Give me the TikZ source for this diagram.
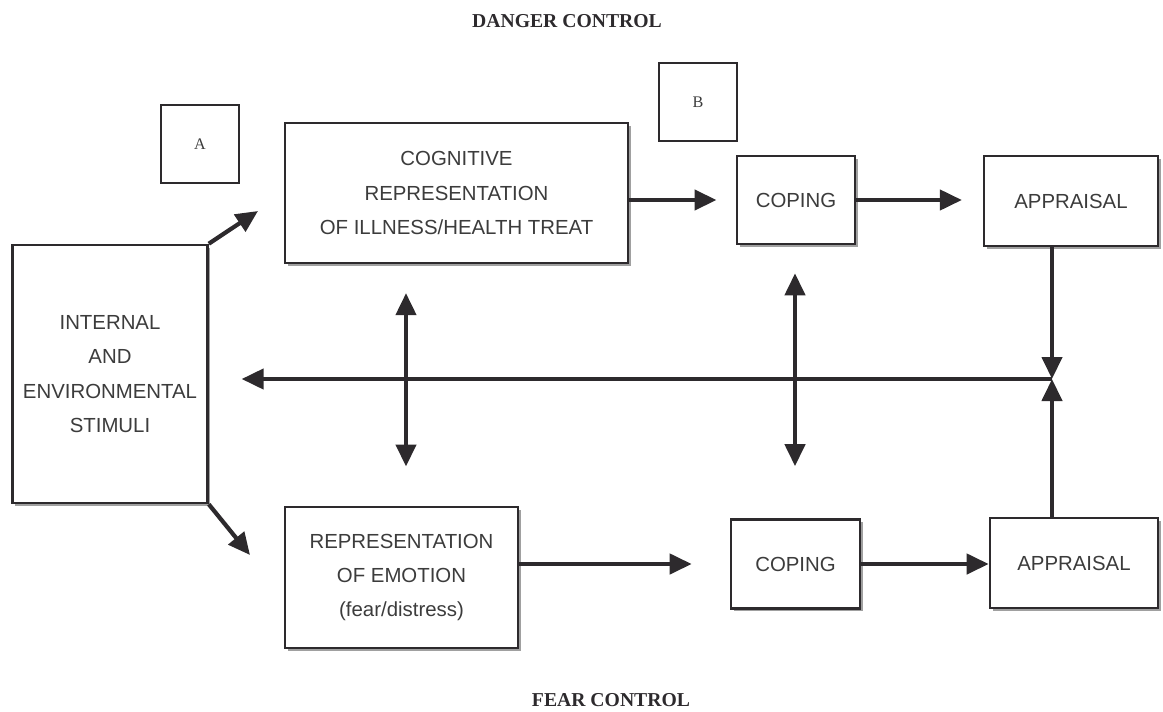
\documentclass[tikz,border=0pt]{standalone}
\usepackage{fontspec}
\setmainfont{Liberation Serif}
\setsansfont{Liberation Sans}
\usetikzlibrary{arrows.meta,positioning,shadows,calc}
\definecolor{InkGray}{RGB}{45,42,45}
\definecolor{TextGray}{RGB}{60,60,60}
\definecolor{ShadowGray}{RGB}{160,160,160}
\tikzset{
  block/.style={draw=InkGray,line width=1.8pt,fill=white,align=center,
    text=TextGray,font=\sffamily\fontsize{14.5}{24.5}\selectfont,
    drop shadow={shadow xshift=2pt,shadow yshift=-2pt,fill=ShadowGray,opacity=1}},
  tag/.style={draw=InkGray,line width=0.8pt,minimum width=1.95cm,minimum height=1.95cm,
    font=\fontsize{11.5}{13}\selectfont,text=TextGray},
  title/.style={font=\bfseries\fontsize{14}{16}\selectfont,text=InkGray},
  arrow/.style={-{Triangle[length=0.55cm,width=0.5cm]},line width=3pt,InkGray},
  biarrow/.style={{Triangle[length=0.55cm,width=0.5cm]}-{Triangle[length=0.55cm,width=0.5cm]},
    line width=3pt,InkGray}
}

\begin{document}
\begin{tikzpicture}[x=0.025cm,y=-0.025cm]
\useasboundingbox (0,0) rectangle (1163,711);

% titles
\node[title] (danger) at (567,21) {DANGER CONTROL};
\node[title] (fear) at (611,700) {FEAR CONTROL};

% stage labels
\node[tag] (tagA) at (200,144) {A};
\node[tag] (tagB) at (698,102) {B};

% boxes
\node[block,minimum width=4.875cm,minimum height=6.45cm] (stim) at (110,374)
  {INTERNAL\\AND\\ENVIRONMENTAL\\STIMULI};
\node[block,minimum width=8.575cm,minimum height=3.5cm] (cog) at (456.5,193)
  {COGNITIVE\\REPRESENTATION\\OF ILLNESS/HEALTH TREAT};
\node[block,minimum width=2.95cm,minimum height=2.2cm] (copeT) at (796,200) {COPING};
\node[block,minimum width=4.35cm,minimum height=2.25cm] (apprT) at (1071,201) {APPRAISAL};
\node[block,minimum width=5.825cm,minimum height=3.525cm] (emo) at (401.5,577.5)
  {REPRESENTATION\\OF EMOTION\\(fear/distress)};
\node[block,minimum width=3.225cm,minimum height=2.225cm] (copeB) at (795.5,564) {COPING};
\node[block,minimum width=4.2cm,minimum height=2.25cm] (apprB) at (1074,563) {APPRAISAL};

% helper points
\coordinate (toCog) at (258,211);
\coordinate (toEmo) at (250,555);
\coordinate (junc) at (1052,379);
\coordinate (colL) at (406,0);
\coordinate (colR) at (795,0);

% connectors
\draw[arrow] (stim.north east) -- (toCog);
\draw[arrow] (stim.south east) -- (toEmo);
\draw[arrow,shorten >=0.48cm] (cog.east |- copeT.west) -- (copeT.west);
\draw[arrow,shorten >=0.52cm] (copeT.east) -- (copeT.east -| apprT.west);
\draw[arrow] (apprT.south -| junc) -- (junc);
\draw[arrow] (apprB.north -| junc) -- (junc);
\draw[arrow,shorten >=0.82cm] (junc) -- (junc -| stim.east);
\draw[biarrow,shorten <=0.72cm,shorten >=0.98cm] (cog.south -| colL) -- (emo.north -| colL);
\draw[biarrow,shorten <=0.7cm,shorten >=1.3cm] (copeT.south -| colR) -- (copeB.north -| colR);
\draw[arrow,shorten >=0.95cm] (emo.east |- copeB.west) -- (copeB.west);
\draw[arrow] (copeB.east) -- (copeB.east -| apprB.west);

\end{tikzpicture}
\end{document}
